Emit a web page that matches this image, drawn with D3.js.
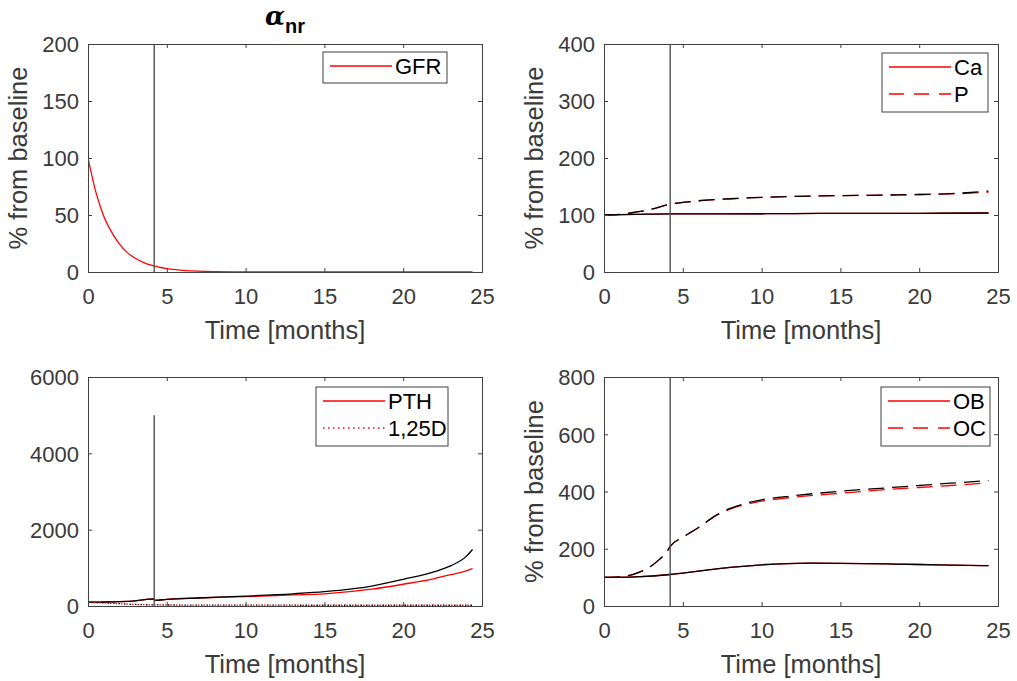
<!DOCTYPE html>
<html>
<head>
<meta charset="utf-8">
<script src="https://cdn.jsdelivr.net/npm/d3@7"></script>
<style>
  html, body { margin: 0; padding: 0; background: #fff; }
  svg { display: block; font-family: "Liberation Sans", Arial, Helvetica, sans-serif; }
</style>
</head>
<body>
<svg id="fig" width="1017" height="681"></svg>
<script>
// ---- data (months, % from baseline) ----
const tickMonths = [0, 5, 10, 15, 20, 25];
const eventMonth = 4.2;

const gfrT = [0, 0.5, 1, 1.5, 2, 2.5, 3, 3.5, 4, 4.5, 5, 6, 7, 8, 10, 12, 15, 20, 24.4];
const gfrRed = [100, 70, 49, 35, 24.5, 17, 12, 8.5, 6, 4.2, 3, 1.5, 0.7, 0.35, 0.1, 0, 0, 0, 0];

const caT = [0, 2, 4.2, 8, 12, 16, 20, 24.4];
const caRed = [100, 101, 102, 102, 102.5, 103, 103, 103.5];
const caBlack = [100, 101, 102, 102, 102.5, 103, 103, 103.5];

const pT = [0, 1, 2, 3, 4.2, 5, 6, 8, 10, 12, 15, 18, 20, 22, 24.4];
const pRed = [100, 101, 105, 110, 119, 122, 125, 128.5, 131, 132.5, 134, 135, 136, 137, 140];
const pBlack = [100, 101, 105, 110, 119, 122, 125, 128.5, 131, 132.5, 134, 135, 136, 137.5, 142];

const pthT = [0, 1, 2, 3, 4.2, 4.25, 5, 7, 10, 13, 15, 18, 20, 22, 23, 24, 24.4];
const pthRed = [100, 105, 115, 135, 185, 150, 175, 210, 245, 290, 320, 440, 570, 720, 820, 920, 980];
const pthBlack = [100, 105, 115, 135, 185, 150, 175, 210, 260, 320, 375, 520, 700, 900, 1050, 1300, 1480];

const vitDT = [0, 1, 2, 3, 4.2, 6, 10, 15, 20, 24.4];
const vitDRed = [100, 80, 60, 40, 30, 25, 22, 20, 20, 20];
const vitDBlack = [100, 80, 60, 40, 30, 25, 22, 20, 20, 20];

const obT = [0, 2, 4.2, 6, 8, 10, 13, 15, 18, 20, 22, 24.4];
const obRed = [100, 102, 110, 122, 135, 144, 150, 149, 147, 145, 143, 141];
const obBlack = [100, 102, 110, 122, 135, 144, 150, 149, 147, 145, 143, 141];

const ocT = [0, 1, 2, 3, 3.5, 4, 4.2, 5, 6, 7, 8, 9, 10, 12, 15, 18, 20, 22, 24.4];
const ocRed = [100, 102, 113, 140, 162, 190, 208, 240, 274, 312, 338, 355, 366, 380, 394, 407, 414, 421, 430];
const ocBlack = [100, 102, 113, 140, 162, 190, 208, 240, 274, 313, 341, 359, 371, 385, 401, 413, 421, 429, 438];

const yTicks1 = [0, 50, 100, 150, 200];
const yTicks2 = [0, 100, 200, 300, 400];
const yTicks3 = [0, 2000, 4000, 6000];
const yTicks4 = [0, 200, 400, 600, 800];

const xLabel = "Time [months]";
const yLabel = "% from baseline";

// ---- layout ----
const svg = d3.select("#fig");
const axisColor = "#404040";
const textColor = "#3a3a3a";
const panels = [
  { left: 88, right: 482, top: 44, bottom: 272, yMax: 200, yTicks: yTicks1, yLabel: true,
    vline: [0, 200],
    series: [ { t: gfrT, v: gfrRed, color: "#ff0000", dash: null } ],
    legend: { x: 323, y: 52, w: 124, h: 31, items: [ { name: "GFR", dash: null } ] } },
  { left: 604, right: 998, top: 44, bottom: 272, yMax: 400, yTicks: yTicks2, yLabel: true,
    vline: [0, 400],
    series: [
      { t: caT, v: caRed, color: "#ff0000", dash: null },
      { t: caT, v: caBlack, color: "#000000", dash: null },
      { t: pT, v: pRed, color: "#ff0000", dash: "16,8" },
      { t: pT, v: pBlack, color: "#000000", dash: "16,8" } ],
    legend: { x: 882, y: 53, w: 106, h: 59, items: [ { name: "Ca", dash: null }, { name: "P", dash: "15,10" } ] } },
  { left: 88, right: 482, top: 377, bottom: 606, yMax: 6000, yTicks: yTicks3, yLabel: false,
    vline: [0, 5000],
    series: [
      { t: pthT, v: pthRed, color: "#ff0000", dash: null },
      { t: pthT, v: pthBlack, color: "#000000", dash: null },
      { t: vitDT, v: vitDRed, color: "#ff0000", dash: "1.5,4" },
      { t: vitDT, v: vitDBlack, color: "#000000", dash: "1.5,4", offset: 2.5 } ],
    legend: { x: 316, y: 387, w: 132, h: 59, items: [ { name: "PTH", dash: null }, { name: "1,25D", dash: "1.5,3.5" } ] } },
  { left: 604, right: 998, top: 377, bottom: 606, yMax: 800, yTicks: yTicks4, yLabel: true,
    vline: [0, 800],
    series: [
      { t: obT, v: obRed, color: "#ff0000", dash: null },
      { t: obT, v: obBlack, color: "#000000", dash: null },
      { t: ocT, v: ocRed, color: "#ff0000", dash: "16,8" },
      { t: ocT, v: ocBlack, color: "#000000", dash: "16,8" } ],
    legend: { x: 881, y: 387, w: 109, h: 59, items: [ { name: "OB", dash: null }, { name: "OC", dash: "15,10" } ] } }
];

panels.forEach(p => {
  const x = d3.scaleLinear().domain([0, 25]).range([p.left, p.right]);
  const y = d3.scaleLinear().domain([0, p.yMax]).range([p.bottom, p.top]);
  const g = svg.append("g");

  // plot background
  g.append("rect").attr("x", p.left).attr("y", p.top)
    .attr("width", p.right - p.left).attr("height", p.bottom - p.top).attr("fill", "#fff");

  // curves
  const clipId = "clip" + p.left + "_" + p.top;
  svg.append("clipPath").attr("id", clipId).append("rect")
    .attr("x", p.left).attr("y", p.top - 2).attr("width", p.right - p.left).attr("height", p.bottom - p.top + 4);
  const cg = g.append("g").attr("clip-path", `url(#${clipId})`);
  p.series.forEach(s => {
    const pts = s.t.map((t, i) => [t, s.v[i]]);
    const line = d3.line().x(d => x(d[0])).y(d => y(d[1])).curve(d3.curveMonotoneX);
    cg.append("path").attr("d", line(pts)).attr("fill", "none")
      .attr("stroke", s.color).attr("stroke-width", 1.3)
      .attr("stroke-dasharray", s.dash)
      .attr("stroke-dashoffset", s.offset || 0);
  });

  // event marker
  g.append("line")
    .attr("x1", x(eventMonth)).attr("x2", x(eventMonth))
    .attr("y1", y(p.vline[0])).attr("y2", y(p.vline[1]))
    .attr("stroke", "#505050").attr("stroke-width", 1.4);

  // axes
  const fs = "22px";
  const bottom = g.append("g").attr("transform", `translate(0,${p.bottom})`)
    .call(d3.axisBottom(x).tickValues(tickMonths).tickSize(-4).tickPadding(15).tickFormat(d3.format("d")));
  const top = g.append("g").attr("transform", `translate(0,${p.top})`)
    .call(d3.axisTop(x).tickValues(tickMonths).tickSize(-4).tickFormat(""));
  const left = g.append("g").attr("transform", `translate(${p.left},0)`)
    .call(d3.axisLeft(y).tickValues(p.yTicks).tickSize(-4).tickPadding(9).tickFormat(d3.format("d")));
  const right = g.append("g").attr("transform", `translate(${p.right},0)`)
    .call(d3.axisRight(y).tickValues(p.yTicks).tickSize(-4).tickFormat(""));
  [bottom, top, left, right].forEach(a => {
    a.select(".domain").attr("stroke", axisColor).attr("stroke-width", 1);
    a.selectAll(".tick line").attr("stroke", axisColor).attr("stroke-width", 1);
    a.selectAll(".tick text").attr("fill", textColor).style("font-size", fs)
      .style("font-family", '"Liberation Sans", Arial, sans-serif');
  });
  bottom.selectAll(".tick text").attr("dy", "0.75em");
  left.selectAll(".tick text").attr("dy", "0.36em");

  // axis labels
  g.append("text").attr("x", (p.left + p.right) / 2).attr("y", p.bottom + 67)
    .attr("text-anchor", "middle").attr("fill", textColor).style("font-size", "25.5px").text(xLabel);
  if (p.yLabel) {
    g.append("text")
      .attr("transform", `translate(${p.left - 61},${(p.top + p.bottom) / 2}) rotate(-90)`)
      .attr("text-anchor", "middle").attr("fill", textColor).style("font-size", "25.5px").text(yLabel);
  }

  // legend
  const L = p.legend;
  const lg = g.append("g");
  lg.append("rect").attr("x", L.x).attr("y", L.y).attr("width", L.w).attr("height", L.h)
    .attr("fill", "#fff").attr("stroke", axisColor).attr("stroke-width", 1);
  L.items.forEach((it, i) => {
    const cy = L.y + 14 + i * 27;
    lg.append("line").attr("x1", L.x + 7).attr("x2", L.x + 69).attr("y1", cy).attr("y2", cy)
      .attr("stroke", "#ff0000").attr("stroke-width", 1.3).attr("stroke-dasharray", it.dash);
    lg.append("text").attr("x", L.x + 72).attr("y", cy).attr("dy", "0.36em")
      .attr("fill", "#000").style("font-size", "22px").text(it.name);
  });
});

// title over the first panel
const title = svg.append("text").attr("x", 285).attr("y", 25).attr("text-anchor", "middle")
  .attr("fill", "#000").style("font-weight", "bold");
title.append("tspan").style("font-family", '"DejaVu Serif", "Liberation Serif", serif')
  .style("font-style", "italic").style("font-size", "26px").text("α");
title.append("tspan").attr("dy", 8).style("font-size", "20px").text("nr");
</script>
</body>
</html>
